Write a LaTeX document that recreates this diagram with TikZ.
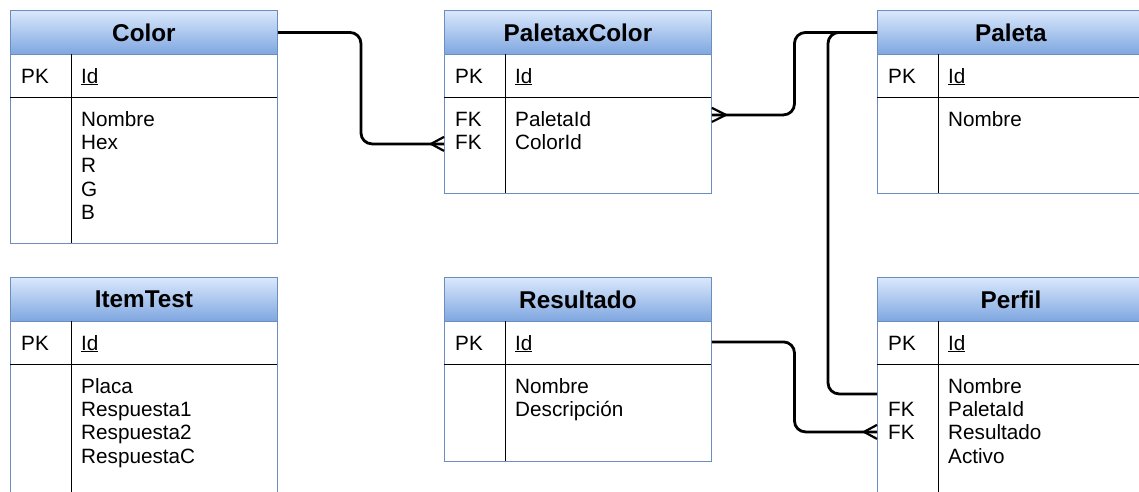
\documentclass[tikz,border=0pt]{standalone}
\usepackage{fontspec}
\setmainfont{Liberation Sans}
\usetikzlibrary{calc}
\definecolor{hdtop}{HTML}{DAE8FC}
\definecolor{hdbot}{HTML}{7EA6E0}
\definecolor{bord}{HTML}{6C8EBF}
\tikzset{
  hdr/.style={draw=bord, line width=0.9pt, top color=hdtop, bottom color=hdbot,
    minimum height=44pt, minimum width=267pt, inner sep=0pt, anchor=north west,
    font=\fontsize{24.3}{28}\selectfont\bfseries},
  bodybox/.style={draw=bord, line width=0.9pt, fill=white},
  innerline/.style={draw=black, line width=1pt},
  fld/.style={anchor=base west, inner sep=0pt, font=\fontsize{20.7}{24}\selectfont},
  conn/.style={draw=black, line width=2.8pt, rounded corners=11pt},
  crow/.style={draw=black, line width=2.2pt},
}
% #1 name, #2 x, #3 y top, #4 y bottom, #5 title, #6 keys, #7 fields
\newcommand{\ertab}[7]{%
  \draw[bodybox] (#2,{#3+44}) rectangle ({#2+267},#4);
  \node[hdr] (#1H) at (#2,#3) {#5};
  \draw[innerline] (#2,{#3+87}) -- ({#2+267},{#3+87});
  \draw[innerline] ({#2+61},{#3+44}) -- ({#2+61},#4);
  \node[fld] (#1pk) at ({#2+11},{#3+73}) {PK};
  \node[fld] (#1id) at ({#2+71},{#3+73}) {\underline{Id}};
  \foreach \t [count=\i] in {#6} \node[fld] at ({#2+11},{#3+116.3+(\i-1)*23.3}) {\t};
  \foreach \t [count=\i] in {#7} \node[fld] at ({#2+71},{#3+116.3+(\i-1)*23.3}) {\t};
}
% crow's foot, entity on the right of the point
\newcommand{\crowR}[1]{\draw[crow] ($(#1)+(0,-7)$) -- ($(#1)+(-13,0)$) -- ($(#1)+(0,7)$);}
% crow's foot, entity on the left of the point
\newcommand{\crowL}[1]{\draw[crow] ($(#1)+(0,-7)$) -- ($(#1)+(14,0)$) -- ($(#1)+(0,7)$);}
\begin{document}
\begin{tikzpicture}[x=1pt,y=-1pt]
\useasboundingbox (0,0) rectangle (1139,491);
\clip (0,0) rectangle (1139,491);
\fill[white] (0,0) rectangle (1139,491);

\ertab{color}{10}{10}{243}{Color}{}{Nombre,Hex,R,G,B}
\ertab{pxc}{444}{10}{193}{PaletaxColor}{FK,FK}{PaletaId,ColorId}
\ertab{paleta}{877}{10}{193}{Paleta}{}{Nombre}
\ertab{item}{10}{277}{500}{ItemTest}{}{Placa,Respuesta1,Respuesta2,RespuestaC}
\ertab{res}{444}{277}{461}{Resultado}{}{Nombre,Descripción}
\ertab{perfil}{877}{277}{500}{Perfil}{{},FK,FK}{Nombre,PaletaId,Resultado,Activo}

\coordinate (pxcCI) at ($(pxcH.south west)+(0,89)$);
\coordinate (pxcPI) at ($(pxcH.south east)+(0,60)$);
\coordinate (resPK) at ($(resH.south east)+(0,20)$);
\coordinate (perfilPI) at ($(perfilH.south west)+(0,72)$);
\coordinate (perfilRes) at ($(perfilH.south west)+(0,110)$);

\draw[conn] (colorH.east) -| ($(colorH.east)!0.5!(pxcCI)$) |- (pxcCI);
\draw[conn] (pxcPI) -| ($(pxcPI)!0.5!(paletaH.west)$) |- (paletaH.west);
\draw[conn] (paletaH.west) -- ++(-49,0) |- (perfilPI);
\draw[conn] (resPK) -| ($(resPK)!0.5!(perfilRes)$) |- (perfilRes);

\crowR{pxcCI}
\crowL{pxcPI}
\crowR{perfilRes}
\end{tikzpicture}
\end{document}
